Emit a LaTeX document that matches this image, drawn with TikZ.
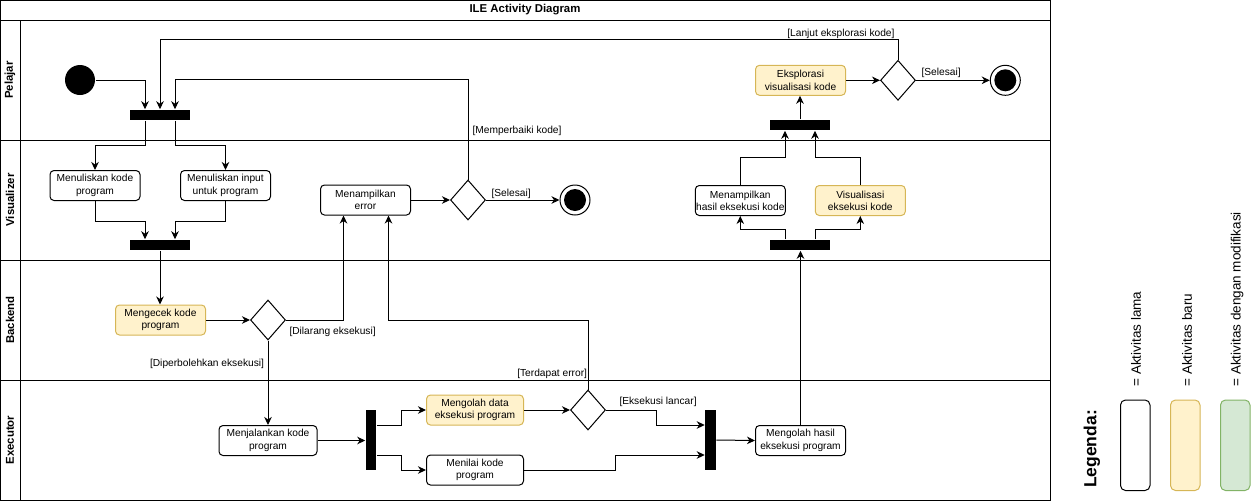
\documentclass[tikz,border=0pt]{standalone}
\usepackage{fontspec}
\setmainfont{Liberation Sans}
\usetikzlibrary{shapes.geometric,arrows.meta}
\definecolor{yfill}{HTML}{FFF2CC}
\definecolor{yborder}{HTML}{D6B656}
\definecolor{gfill}{HTML}{D5E8D4}
\definecolor{gborder}{HTML}{82B366}
\tikzset{
  txt/.style={font=\fontsize{10.2}{12.3}\selectfont},
  act/.style={txt, draw=black, rounded corners=4pt, minimum width=90pt, minimum height=30pt, inner sep=0pt, align=center, fill=white},
  newact/.style={act, fill=yfill, draw=yborder},
  hbar/.style={fill=black, draw=none, inner sep=0pt, minimum width=60pt, minimum height=10.5pt},
  vbar/.style={fill=black, draw=none, inner sep=0pt, minimum width=10.5pt, minimum height=60pt},
  dec/.style={diamond, draw=black, minimum width=35pt, minimum height=40pt, inner sep=0pt, fill=white},
  startc/.style={circle, fill=black, minimum size=30pt, inner sep=0pt},
  endc/.style={circle, draw=black, fill=white, minimum size=30pt, inner sep=0pt},
  endin/.style={circle, fill=black, minimum size=22pt, inner sep=0pt},
  arr/.style={-{Stealth[length=8pt,width=7.5pt,inset=2.5pt]}},
  lbl/.style={txt, inner sep=0pt},
  lane/.style={rotate=90, font=\fontsize{11.4}{13}\selectfont\bfseries},
  legtxt/.style={rotate=90, anchor=west, inner sep=0pt, font=\fontsize{13.5}{15}\selectfont},
}
\begin{document}
\begin{tikzpicture}[x=1pt,y=-1pt,line width=1pt]
\useasboundingbox (0,0) rectangle (1251,501);
% frame and lanes
\draw (0.5,0.5) rectangle (1050,500);
\draw (0.5,20) -- (1050,20);
\draw (0.5,140) -- (1050,140);
\draw (0.5,260) -- (1050,260);
\draw (0.5,380) -- (1050,380);
\draw (20,20) -- (20,500);
\node[font=\fontsize{11.4}{13}\selectfont\bfseries] (title) at (525,10) {ILE Activity Diagram};
\node[lane] (lP) at (10,80) {Pelajar};
\node[lane] (lV) at (10,200) {Visualizer};
\node[lane] (lB) at (10,320) {Backend};
\node[lane] (lX) at (10,440) {Executor};

% nodes
\node[startc] (start) at (80,80) {};
\node[hbar] (bar1) at (160,115) {};
\node[act] (b1) at (95,185.5) {Menuliskan kode\\program};
\node[act] (b2) at (225.5,185.5) {Menuliskan input\\untuk program};
\node[hbar] (bar2) at (160,245) {};
\node[newact] (cek) at (160.5,320) {Mengecek kode\\program};
\node[dec] (dB) at (268,320) {};
\node[act, minimum width=98pt] (jalan) at (268,440.5) {Menjalankan kode\\program};
\node[vbar] (bar5) at (371,440) {};
\node[newact, minimum width=97pt] (olah) at (475,410) {Mengolah data\\eksekusi program};
\node[act, minimum width=97pt] (nilai) at (475,470) {Menilai kode\\program};
\node[dec] (dX) at (588,410) {};
\node[vbar] (bar6) at (710.5,440) {};
\node[act] (hasil) at (800.5,440.5) {Mengolah hasil\\eksekusi program};
\node[hbar] (bar4) at (800,245) {};
\node[act] (tamp) at (740.3,200.5) {Menampilkan\\hasil eksekusi kode};
\node[newact] (vis) at (860.3,200.5) {Visualisasi\\eksekusi kode};
\node[hbar] (bar3) at (800,125) {};
\node[newact] (eks) at (800.5,80.3) {Eksplorasi\\visualisasi kode};
\node[dec] (dP) at (898,80.3) {};
\node[endc] (endP) at (1005.3,80.3) {};
\node[endin] (endPin) at (endP.center) {};
\node[act] (err) at (365.5,200) {Menampilkan\\error};
\node[dec] (dV) at (468,200) {};
\node[endc] (endV) at (575,200) {};
\node[endin] (endVin) at (endV.center) {};

% connectors
\draw[arr] (start.east) -| ([xshift=-15pt]bar1.north);
\draw[arr] (dP.north) -- ++(0,-20) -| (bar1.north);
\draw[arr] (dV.north) -- ++(0,-100) -| ([xshift=15pt]bar1.north);
\draw[arr] ([xshift=-15pt]bar1.south) -- ++(0,25) -| (b1.north);
\draw[arr] ([xshift=15pt]bar1.south) -- ++(0,25) -| (b2.north);
\draw[arr] (b1.south) -- ++(0,20) -| ([xshift=-15pt]bar2.north);
\draw[arr] (b2.south) -- ++(0,20) -| ([xshift=15pt]bar2.north);
\draw[arr] (bar2.south) -- (bar2.south |- cek.north);
\draw[arr] (cek.east) -- (dB.west);
\draw[arr] (dB.east) -| ([xshift=-22pt]err.south);
\draw[arr] (dB.south) -- (jalan.north);
\draw[arr] (jalan.east) -- (bar5.west |- jalan.east);
\draw[arr] ([yshift=15pt]bar5.east) -- ++(25,0) |- (olah.west);
\draw[arr] ([yshift=-15pt]bar5.east) -- ++(25,0) |- (nilai.west);
\draw[arr] (olah.east) -- (dX.west);
\draw[arr] (dX.north) -- (dX.north |- dB.east) -| ([xshift=23pt]err.south);
\draw[arr] (dX.east) -- ++(50,0) |- ([yshift=15pt]bar6.west);
\draw[arr] (nilai.east) -- ++(91,0) |- ([yshift=-15pt]bar6.west);
\draw[arr] (bar6.east) -- (hasil.west);
\draw[arr] (hasil.north) -- (hasil.north |- bar4.south);
\draw[arr] ([xshift=-15pt]bar4.north) -- ++(0,-10) -| (tamp.south);
\draw[arr] ([xshift=15pt]bar4.north) -- ++(0,-10) -| (vis.south);
\draw[arr] (tamp.north) -- ++(0,-28) -| ([xshift=-15pt]bar3.south);
\draw[arr] (vis.north) -- ++(0,-28) -| ([xshift=15pt]bar3.south);
\draw[arr] (bar3.north) -- (bar3.north |- eks.south);
\draw[arr] (eks.east) -- (dP.west);
\draw[arr] (dP.east) -- (endP.west);
\draw[arr] (err.east) -- (dV.west);
\draw[arr] (dV.east) -- (endV.west);

% labels
\node[lbl, anchor=east] (t1) at (895,33.5) {[Lanjut eksplorasi kode]};
\node[lbl, anchor=west] (t2) at (921,73) {[Selesai]};
\node[lbl, anchor=west] (t3) at (472,131) {[Memperbaiki kode]};
\node[lbl, anchor=west] (t4) at (491,194) {[Selesai]};
\node[lbl, anchor=west] (t5) at (289,332) {[Dilarang eksekusi]};
\node[lbl, anchor=east] (t6) at (264.5,363.5) {[Diperbolehkan eksekusi]};
\node[lbl, anchor=east] (t7) at (587.5,374) {[Terdapat error]};
\node[lbl, anchor=west] (t8) at (619,402) {[Eksekusi lancar]};

% legend
\node[rotate=90, font=\fontsize{17.5}{19}\selectfont\bfseries] (leg) at (1092,449) {Legenda:};
\draw[rounded corners=5pt] (1120.5,400) rectangle (1150,490.5);
\draw[rounded corners=5pt, fill=yfill, draw=yborder] (1170.5,400) rectangle (1200,490.5);
\draw[rounded corners=5pt, fill=gfill, draw=gborder] (1220.5,400) rectangle (1250,490.5);
\node[legtxt] (lg1) at (1136,387) {= Aktivitas lama};
\node[legtxt] (lg2) at (1187,387) {= Aktivitas baru};
\node[legtxt] (lg3) at (1237,387) {= Aktivitas dengan modifikasi};
\end{tikzpicture}
\end{document}
